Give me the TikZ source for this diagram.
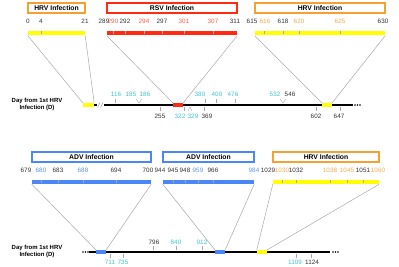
\documentclass[tikz,border=0pt]{standalone}
\usepackage{fontspec}
\setmainfont{Liberation Sans}
\definecolor{orC}{HTML}{F5A030}
\definecolor{orT}{HTML}{F5A848}
\definecolor{rdC}{HTML}{FF2A10}
\definecolor{rdT}{HTML}{FF5A48}
\definecolor{ylC}{HTML}{FFFF00}
\definecolor{blC}{HTML}{4A86F5}
\definecolor{blT}{HTML}{5C90F0}
\definecolor{cyT}{HTML}{3CC4CC}
\definecolor{gyL}{HTML}{A8A8A8}
\definecolor{txK}{HTML}{303030}
\begin{document}
\begin{tikzpicture}[x=1pt,y=-1pt,
  titlebox/.style={draw=#1, line width=1.1pt, minimum height=10pt, inner sep=0pt, font=\fontsize{6.8}{7}\selectfont\bfseries},
  barbox/.style={fill=#1, draw=none, minimum height=4pt, inner sep=0pt},
  seg/.style={fill=#1, draw=none, minimum height=4pt, minimum width=10pt, inner sep=0pt},
  lbl/.style={font=\fontsize{6.3}{7}\selectfont, inner sep=0pt, text=txK},
  conn/.style={draw=gyL, line width=0.5pt},
  tick/.style={draw=gyL, line width=0.4pt},
  tline/.style={draw=black, line width=1.6pt},
  dlabel/.style={font=\fontsize{6}{7}\selectfont\bfseries, align=center, inner sep=0pt}
]
\useasboundingbox (0,0) rectangle (399,267);

% ---------- top title boxes ----------
\node[titlebox=orC, minimum width=57pt] (t1) at (56.5,8) {HRV Infection};
\node[titlebox=rdC, minimum width=130pt] (t2) at (172,8) {RSV Infection};
\node[titlebox=orC, minimum width=130pt] (t3) at (320,8) {HRV Infection};

% ---------- top bars ----------
\node[barbox=ylC, minimum width=57pt] (b1) at (56.5,33.5) {};
\node[barbox=rdC, minimum width=130pt] (b2) at (172,33.5) {};
\node[barbox=ylC, minimum width=130pt] (b3) at (320,33.5) {};
\foreach \x in {41,113,125,144,162,184,213,264,283,299,340}
  \draw[tick] (\x,31.5) -- (\x,34);

% ---------- top labels ----------
\foreach \x/\t in {28/0,41/4,85/21,104/289,125/292,162/297,235/311,252/615,283/618,383/630}
  \node[lbl] (l\t) at (\x,21) {\t};
\foreach \x/\t in {113/290,144/294,184/301,213/307}
  \node[lbl, text=rdT] (l\t) at (\x,21) {\t};
\foreach \x/\t in {265/616,299/620,340/625}
  \node[lbl, text=orT] (l\t) at (\x,21) {\t};

% ---------- top timeline ----------
\coordinate (a0) at (83,105);
\coordinate (a1) at (353,105);
\draw[tline] (a0) -- (a1);
\fill[white] (97,102) rectangle (104,108);
\draw[gyL, line width=0.5pt] (97.5,107.5) -- (100,102.5) (100.5,107.5) -- (103,102.5);
\foreach \x in {355,357.5,360} \fill[black] (\x,105) circle (0.8);
\node[seg=ylC, minimum width=11pt] (s1) at (88.5,105) {};
\node[seg=rdC] (s2) at (178,105) {};
\node[seg=ylC] (s3) at (327,105) {};

\draw[conn] (b1.south west) -- (s1.north west);
\draw[conn] (b1.south east) -- (s1.north east);
\draw[conn] (b2.south west) -- (s2.north west);
\draw[conn] (b2.south east) -- (s2.north east);
\draw[conn] (b3.south west) -- (s3.north west);
\draw[conn] (b3.south east) -- (s3.north east);

\node[dlabel] (d1) at (37,104) {Day from 1st HRV\\Infection (D)};

% ticks top timeline
\draw[tick] (115,99) -- (115,103);
\draw[tick] (136,99) -- (139,103) -- (142,99);
\draw[tick] (205,99) -- (205,103);
\draw[tick] (216,99) -- (216,103);
\draw[tick] (235,99) -- (235,103);
\draw[tick] (280,99) -- (283,103) -- (286,99);
\draw[tick] (160,107) -- (160,111);
\draw[tick] (184,107) -- (184,111);
\draw[tick] (188,111) -- (190,107) -- (192,111);
\draw[tick] (204,107) -- (204,111);
\draw[tick] (316,107) -- (316,111);
\draw[tick] (340,107) -- (340,111);

\foreach \x/\t in {116/116,131/185,145/186,200/380,217/400,233/476,275/532}
  \node[lbl, text=cyT] (u\t) at (\x,94) {\t};
\node[lbl] (u546) at (290,94) {546};
\foreach \x/\t in {160/255,207/369,316/602,339/647}
  \node[lbl] (v\t) at (\x,116) {\t};
\foreach \x/\t in {180/322,193/329}
  \node[lbl, text=cyT] (v\t) at (\x,116) {\t};

% ---------- bottom title boxes ----------
\node[titlebox=blC, minimum width=119pt] (t4) at (91.5,157) {ADV Infection};
\node[titlebox=blC, minimum width=91pt] (t5) at (208.5,157) {ADV Infection};
\node[titlebox=orC, minimum width=106pt] (t6) at (326,157) {HRV Infection};

% ---------- bottom bars ----------
\node[barbox=blC, minimum width=119pt] (b4) at (91.5,182) {};
\node[barbox=blC, minimum width=91pt] (b5) at (208.5,182) {};
\node[barbox=ylC, minimum width=106pt] (b6) at (326,182) {};
\foreach \x in {41,58,83,116,173,185,198,213,282,296,330,347,363}
  \draw[tick] (\x,180) -- (\x,182.5);

% ---------- bottom labels ----------
\foreach \x/\t in {26/679,58/683,116/694,148/700,160/944,173/945,185/948,213/966,268/1029,296/1032,363/1051}
  \node[lbl] (m\t) at (\x,170) {\t};
\foreach \x/\t in {41/680,83/688,198/959,254/984}
  \node[lbl, text=blT] (m\t) at (\x,170) {\t};
\foreach \x/\t in {282/1030,330/1038,347/1045,378/1060}
  \node[lbl, text=orT] (m\t) at (\x,170) {\t};

% ---------- bottom timeline ----------
\coordinate (c0) at (89,252);
\coordinate (c1) at (330,252);
\draw[tline] (c0) -- (c1);
\foreach \x in {83,85.5,88} \fill[black] (\x,252) circle (0.8);
\foreach \x in {333,335.5,338} \fill[black] (\x,252) circle (0.8);
\node[seg=blC] (s4) at (101,252) {};
\node[seg=blC] (s5) at (220,252) {};
\node[seg=ylC] (s6) at (262,252) {};

\draw[conn] (b4.south west) -- (s4.north west);
\draw[conn] (b4.south east) -- (s4.north east);
\draw[conn] (b5.south west) -- (s5.north west);
\draw[conn] (b5.south east) -- (s5.north east);
\draw[conn] (b6.south west) -- (s6.north west);
\draw[conn] (b6.south east) -- (s6.north east);

\node[dlabel] (d2) at (37,251) {Day from 1st HRV\\Infection (D)};

\draw[tick] (153,246) -- (153,250);
\draw[tick] (176,246) -- (176,250);
\draw[tick] (202,246) -- (202,250);
\draw[tick] (110,254) -- (110,258);
\draw[tick] (123,254) -- (123,258);
\draw[tick] (296,254) -- (296,258);
\draw[tick] (311,254) -- (311,258);

\node[lbl] (w796) at (154,242) {796};
\node[lbl, text=cyT] (w840) at (176,242) {840};
\node[lbl, text=cyT] (w912) at (202,242) {912};
\node[lbl, text=cyT] (x711) at (110,262) {711};
\node[lbl, text=cyT] (x735) at (123,262) {735};
\node[lbl, text=cyT] (x1109) at (295,262) {1109};
\node[lbl] (x1124) at (312,262) {1124};
\end{tikzpicture}
\end{document}
